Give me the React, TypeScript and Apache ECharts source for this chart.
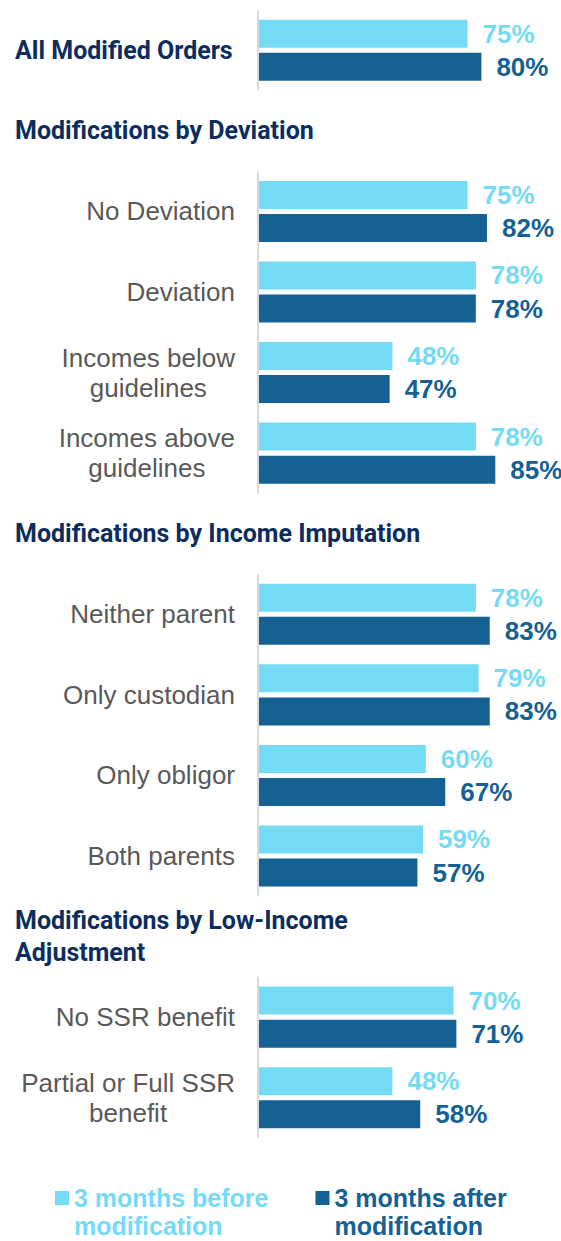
import React, { useEffect, useRef } from "react";
import * as echarts from "echarts";

const categories = [
  "All Modified Orders",
  "Modifications by Deviation",
  "No Deviation",
  "Deviation",
  "Incomes below\nguidelines",
  "Incomes above\nguidelines",
  "Modifications by Income Imputation",
  "Neither parent",
  "Only custodian",
  "Only obligor",
  "Both parents",
  "Modifications by Low-Income\nAdjustment",
  "No SSR benefit",
  "Partial or Full SSR\nbenefit",
];
const headerRows = [
  "All Modified Orders",
  "Modifications by Deviation",
  "Modifications by Income Imputation",
  "Modifications by Low-Income\nAdjustment",
];
const sectionTitles = [
  "Modifications by Deviation",
  "Modifications by Income Imputation",
  "Modifications by Low-Income\nAdjustment",
];
const before = [75, null, 75, 78, 48, 78, null, 78, 79, 60, 59, null, 70, 48];
const after = [80, null, 82, 78, 47, 85, null, 83, 83, 67, 57, null, 71, 58];
const seriesNames = ["3 months before\nmodification", "3 months after\nmodification"];

const LIGHT = "#75DBF4";
const DARK = "#156194";
const NAVY = "#0C2D5E";
const GRAY = "#595959";
const AXIS = "#D9D9D9";

export default function App() {
  const ref = useRef<HTMLDivElement>(null);
  useEffect(() => {
    if (!ref.current) return;
    const chart = echarts.init(ref.current, null, { renderer: "svg" });
    const axisRows = categories
      .map((c, i) => [0, i])
      .filter((d) => !sectionTitles.includes(categories[d[1] as number]));
    const valueLabel = (color: string) => ({
      show: true,
      position: "right",
      distance: 15,
      color,
      fontSize: 26,
      fontWeight: "bold",
      fontFamily: "Liberation Sans, Arial, sans-serif",
      formatter: (p: any) => `${p.value}%`,
    });
    chart.setOption({
      animation: false,
      backgroundColor: "#ffffff",
      grid: { left: 259, right: 24, top: 10, height: 1128, containLabel: false },
      xAxis: { type: "value", min: 0, max: 100, show: false },
      yAxis: {
        type: "category",
        inverse: true,
        data: categories,
        axisLine: { show: false },
        axisTick: { show: false },
        splitLine: { show: false },
        axisLabel: {
          interval: 0,
          margin: 24,
          color: GRAY,
          fontSize: 26,
          fontFamily: "Liberation Sans, Arial, sans-serif",
          formatter: (v: string) => {
            const lines = v.split("\n");
            if (headerRows.includes(v)) return lines.map((l) => `{h|${l}}`).join("\n");
            if (lines.length > 1) return lines.map((l) => `{c|${l}}`).join("\n");
            return `{g|${v}}`;
          },
          rich: {
            h: {
              fontFamily: "Roboto, Liberation Sans, Arial, sans-serif",
              fontWeight: "bold",
              fontSize: 25,
              color: NAVY,
              width: 220,
              align: "left",
              lineHeight: 32,
            },
            c: {
              fontFamily: "Liberation Sans, Arial, sans-serif",
              fontSize: 26,
              color: GRAY,
              align: "center",
              lineHeight: 30,
            },
            g: {
              fontFamily: "Liberation Sans, Arial, sans-serif",
              fontSize: 26,
              color: GRAY,
              lineHeight: 30,
            },
          },
        },
      },
      legend: {
        left: 50,
        top: 1151,
        itemWidth: 14,
        itemHeight: 14,
        itemGap: 47,
        icon: "rect",
        formatter: (name: string) => "\n" + name,
        textStyle: {
          fontSize: 25,
          fontWeight: "bold",
          fontFamily: "Liberation Sans, Arial, sans-serif",
          lineHeight: 28,
        },
        data: [
          { name: seriesNames[0], textStyle: { color: LIGHT } },
          { name: seriesNames[1], textStyle: { color: DARK } },
        ],
      },
      series: [
        {
          name: seriesNames[0],
          type: "bar",
          data: before,
          barWidth: 28,
          barGap: "18%",
          itemStyle: { color: LIGHT },
          label: valueLabel(LIGHT),
        },
        {
          name: seriesNames[1],
          type: "bar",
          data: after,
          barWidth: 28,
          barGap: "18%",
          itemStyle: { color: DARK },
          label: valueLabel(DARK),
        },
        {
          type: "custom",
          silent: true,
          data: axisRows,
          encode: { x: 0, y: 1 },
          renderItem: (params: any, api: any) => {
            const p = api.coord([0, api.value(1)]);
            const bw = api.size([0, 1])[1];
            return {
              type: "line",
              shape: { x1: p[0] - 1, y1: p[1] - bw / 2, x2: p[0] - 1, y2: p[1] + bw / 2 },
              style: { stroke: AXIS, lineWidth: 2 },
            };
          },
        },
      ],
    });
    return () => chart.dispose();
  }, []);
  return (
    <div
      ref={ref}
      style={{ position: "fixed", left: 0, top: 0, width: 561, height: 1241 }}
    />
  );
}
